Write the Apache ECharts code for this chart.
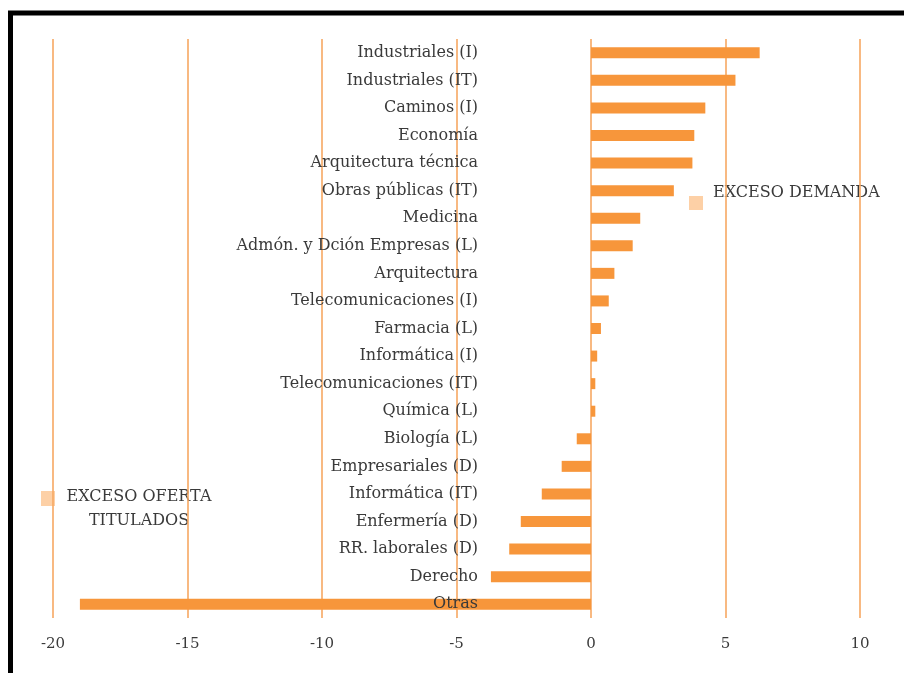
<!DOCTYPE html>
<html>
<head>
<meta charset="utf-8">
<title>Exceso demanda / oferta titulados</title>
<script src="https://cdn.jsdelivr.net/npm/echarts@6/dist/echarts.min.js"></script>
<style>
  html, body { margin: 0; padding: 0; background: #fff; }
  #chart { width: 904px; height: 673px; }
</style>
</head>
<body>
<div id="chart"></div>
<script>
// titulaciones, de arriba abajo
const categories = [
  'Industriales (I)', 'Industriales (IT)', 'Caminos (I)', 'Economía',
  'Arquitectura técnica', 'Obras públicas (IT)', 'Medicina',
  'Admón. y Dción Empresas (L)', 'Arquitectura', 'Telecomunicaciones (I)',
  'Farmacia (L)', 'Informática (I)', 'Telecomunicaciones (IT)', 'Química (L)',
  'Biología (L)', 'Empresariales (D)', 'Informática (IT)', 'Enfermería (D)',
  'RR. laborales (D)', 'Derecho', 'Otras'
]
const values = [
  6.27, 5.37, 4.25, 3.84, 3.77, 3.08, 1.83, 1.55, 0.87, 0.66,
  0.37, 0.23, 0.16, 0.16, -0.53, -1.09, -1.83, -2.61, -3.04, -3.72, -19.0
]
const xTicks = [-20, -15, -10, -5, 0, 5, 10]

const serif = 'DejaVu Serif'
const textColor = '#3a3a3a'

const myChart = echarts.init(document.getElementById('chart'))
const option = {
  animation: false,
  grid: { left: 53, right: 44, top: 39, bottom: 55, containLabel: false, outerBoundsMode: 'none' },
  xAxis: {
    type: 'value',
    min: xTicks[0],
    max: xTicks[xTicks.length - 1],
    interval: 5,
    axisLine: { show: false },
    axisTick: { show: false },
    splitLine: { show: true, lineStyle: { color: '#f7a862', width: 1.6 } },
    axisLabel: { color: textColor, fontFamily: serif, fontSize: 15, margin: 19 }
  },
  yAxis: {
    type: 'category',
    inverse: true,
    data: categories,
    z: 5, // etiquetas encima de las barras ("Otras")
    axisLine: { show: false, onZero: false },
    axisTick: { show: false },
    // etiquetas alineadas a la derecha cerca de x = -4
    axisLabel: { color: textColor, fontFamily: serif, fontSize: 16, margin: -425, hideOverlap: false }
  },
  series: [{
    type: 'bar',
    data: values,
    barWidth: 11,
    itemStyle: { color: '#f7963b' },
    z: 1
  }],
  graphic: [
    // marco negro
    { type: 'rect', shape: { x: 10.5, y: 13, width: 1000, height: 1000 },
      style: { fill: 'none', stroke: '#000', lineWidth: 5 }, silent: true },
    // leyendas
    { type: 'rect', shape: { x: 689, y: 196, width: 14, height: 14 },
      style: { fill: '#fdd0a6' } },
    { type: 'text', x: 713, y: 193,
      style: { text: 'EXCESO DEMANDA', fill: textColor, font: '16px "DejaVu Serif"', textVerticalAlign: 'middle' } },
    { type: 'rect', shape: { x: 41, y: 491, width: 14, height: 15 },
      style: { fill: '#fdd0a6' } },
    { type: 'text', x: 139, y: 485,
      style: { text: 'EXCESO OFERTA\nTITULADOS', fill: textColor, font: '16px "DejaVu Serif"',
        textAlign: 'center', lineHeight: 24 } }
  ]
}
myChart.setOption(option)
</script>
</body>
</html>
